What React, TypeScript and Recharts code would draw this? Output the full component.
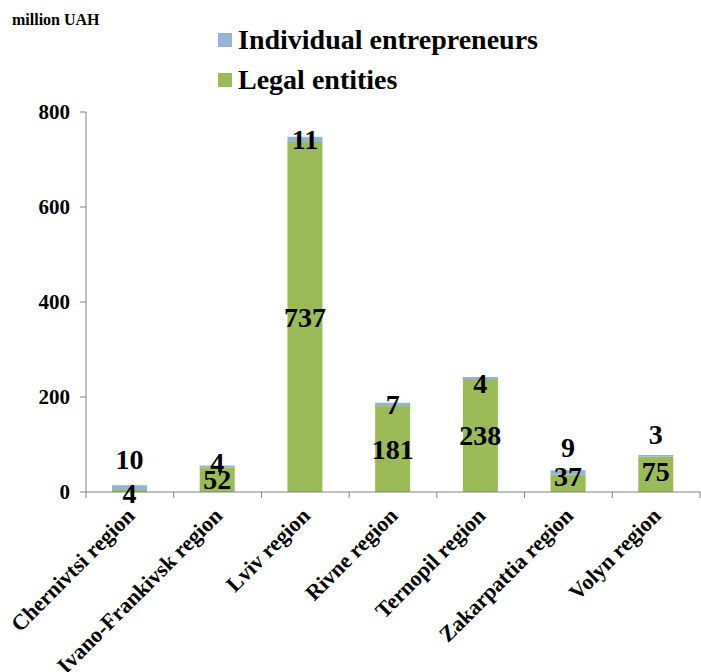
import { BarChart, Bar, XAxis, YAxis, LabelList } from "recharts";

const regions = [
  "Chernivtsi region",
  "Ivano-Frankivsk region",
  "Lviv region",
  "Rivne region",
  "Ternopil region",
  "Zakarpattia region",
  "Volyn region",
];
const legalEntities = [4, 52, 737, 181, 238, 37, 75];
const individualEntrepreneurs = [10, 4, 11, 7, 4, 9, 3];
const yTicks = [0, 200, 400, 600, 800];

// label nudges (px, upward) where the labels were moved off-centre
const legalLift = [-2, 0, 0, 0, 0, 7, 3];
const indivLift = [29, 4, 0, 0, -5, 25, 21];

const W = 701;
const H = 672;
const X_AXIS_H = 30;
const M = { top: 112, right: 1, bottom: 180 - X_AXIS_H, left: 0 };
const Y_AXIS_W = 86;
const BAND = (W - M.left - M.right - Y_AXIS_W) / regions.length;
const AXIS_Y = H - M.bottom - X_AXIS_H;

const BLUE = "#95B3D7";
const GREEN = "#9BBB59";
const AXIS = "#808080";
const FONT = "'Liberation Serif', 'Times New Roman', serif";

const data = regions.map((name, i) => ({
  name,
  legal: legalEntities[i],
  indiv: individualEntrepreneurs[i],
}));

const makeLabel = (lift: number[]) => (props: any) => {
  const { x, y, width, height, value, index } = props;
  const cx = Number(x) + Number(width) / 2;
  const cy = Number(y) + Number(height) / 2 - (lift[index] || 0);
  return (
    <text
      x={cx}
      y={cy}
      dy="0.35em"
      textAnchor="middle"
      fontFamily={FONT}
      fontWeight="bold"
      fontSize={28}
      fill="#000"
    >
      {value}
    </text>
  );
};

const XTick = (props: any) => {
  const { x, payload, index } = props;
  const left = x - BAND / 2;
  const tx = x + 6;
  const ty = AXIS_Y + 25;
  return (
    <g>
      <line x1={left} y1={AXIS_Y} x2={left} y2={AXIS_Y + 6} stroke={AXIS} />
      {index === regions.length - 1 && (
        <line x1={x + BAND / 2} y1={AXIS_Y} x2={x + BAND / 2} y2={AXIS_Y + 6} stroke={AXIS} />
      )}
      <text
        x={tx}
        y={ty}
        transform={`rotate(-45, ${tx}, ${ty})`}
        textAnchor="end"
        fontFamily={FONT}
        fontWeight="bold"
        fontSize={22}
        fill="#000"
      >
        {payload.value}
      </text>
    </g>
  );
};

export default function App() {
  return (
    <div style={{ position: "absolute", left: 0, top: 0, width: W, height: H, background: "#fff" }}>
      <div
        style={{
          position: "absolute",
          left: 12,
          top: 11,
          fontFamily: FONT,
          fontWeight: "bold",
          fontSize: 16,
        }}
      >
        million UAH
      </div>
      <div style={{ position: "absolute", left: 218, top: 20, fontFamily: FONT, fontWeight: "bold", fontSize: 28 }}>
        {[
          { label: "Individual entrepreneurs", color: BLUE },
          { label: "Legal entities", color: GREEN },
        ].map((it) => (
          <div key={it.label} style={{ display: "flex", alignItems: "center", height: 40 }}>
            <span style={{ width: 14, height: 14, background: it.color, marginRight: 6, display: "inline-block" }} />
            <span>{it.label}</span>
          </div>
        ))}
      </div>
      <BarChart width={W} height={H} data={data} margin={M} barSize={35}>
        <XAxis
          dataKey="name"
          interval={0}
          height={X_AXIS_H}
          stroke={AXIS}
          tickLine={false}
          tick={<XTick />}
        />
        <YAxis
          domain={[0, 800]}
          ticks={yTicks}
          width={Y_AXIS_W}
          stroke={AXIS}
          tickSize={6}
          tickMargin={10}
          tick={{ fontFamily: FONT, fontWeight: "bold", fontSize: 21, fill: "#000" }}
        />
        <Bar dataKey="legal" stackId="a" fill={GREEN} isAnimationActive={false}>
          <LabelList dataKey="legal" content={makeLabel(legalLift)} />
        </Bar>
        <Bar dataKey="indiv" stackId="a" fill={BLUE} isAnimationActive={false}>
          <LabelList dataKey="indiv" content={makeLabel(indivLift)} />
        </Bar>
      </BarChart>
    </div>
  );
}
